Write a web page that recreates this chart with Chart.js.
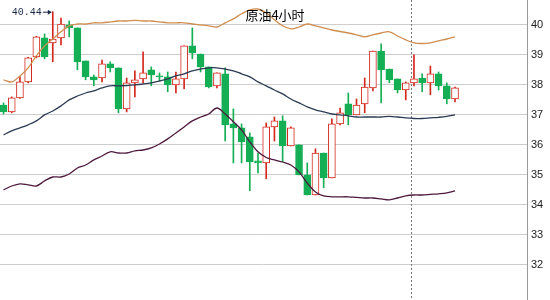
<!DOCTYPE html>
<html>
<head>
<meta charset="utf-8">
<script src="https://cdn.jsdelivr.net/npm/chart.js@4/dist/chart.umd.min.js"></script>
<style>
  html, body { margin: 0; padding: 0; background: #fff; }
  #wrap { width: 550px; height: 300px; }
</style>
</head>
<body>
<div id="wrap"><canvas id="oilChart"></canvas></div>
<script>
// 原油4小时 K线 + 布林带
const chartTitle = '原油4小时';
const opens = [37.33, 37.10, 37.57, 38.10, 38.93, 39.57, 39.40, 39.57, 40.00, 39.90,
    38.80, 38.27, 38.23, 38.70, 38.57, 37.20, 38.07, 38.20, 38.50, 38.30,
    38.27, 38.00, 38.20, 39.30, 39.03, 38.60, 37.97, 38.37, 36.70, 36.57,
    36.27, 35.47, 35.40, 36.60, 36.80, 35.97, 36.00, 35.00, 34.33, 35.73,
    34.90, 36.70, 37.37, 37.00, 37.37, 37.90, 39.13, 38.53, 38.20, 37.83,
    38.07, 38.23, 38.07, 38.37, 37.97, 37.53];
const closes = [37.10, 37.57, 38.10, 38.90, 39.60, 38.93, 39.53, 40.03, 39.90, 38.77,
    38.27, 38.17, 38.70, 38.57, 37.20, 38.07, 38.17, 38.40, 38.33, 38.27,
    38.00, 38.20, 39.30, 39.07, 38.60, 37.93, 38.40, 36.67, 36.57, 36.10,
    35.43, 35.40, 36.60, 36.80, 35.97, 36.57, 35.00, 34.33, 35.73, 34.90,
    36.70, 37.07, 37.00, 37.33, 37.93, 39.13, 38.50, 38.17, 37.83, 38.07,
    38.20, 38.07, 38.37, 37.97, 37.53, 37.90];
const highs = [37.40, 37.60, 38.27, 38.92, 39.62, 39.70, 40.44, 40.23, 40.13, 39.90,
    38.80, 38.33, 38.83, 38.77, 38.57, 38.23, 38.47, 39.10, 38.60, 38.40,
    38.43, 38.43, 39.30, 39.90, 39.03, 38.60, 38.40, 38.57, 37.20, 36.70,
    36.40, 35.73, 36.73, 36.93, 36.97, 36.60, 36.00, 35.40, 35.87, 35.73,
    36.87, 37.23, 37.73, 37.53, 38.23, 39.13, 39.37, 38.53, 38.20, 38.10,
    39.00, 38.37, 38.63, 38.43, 38.07, 37.93];
const lows = [37.03, 37.07, 37.55, 38.07, 38.90, 38.87, 38.77, 39.33, 39.60, 38.50,
    38.17, 37.97, 38.10, 38.43, 37.07, 37.10, 37.60, 38.07, 37.97, 38.13,
    37.77, 37.73, 37.87, 38.87, 38.43, 37.90, 37.90, 36.13, 35.40, 35.40,
    34.47, 35.07, 34.87, 36.13, 35.43, 35.97, 35.00, 34.33, 34.33, 34.57,
    34.90, 36.67, 36.67, 37.00, 37.07, 37.80, 37.40, 38.07, 37.73, 37.50,
    37.97, 37.77, 37.67, 37.83, 37.37, 37.43];
const upperBand = [38.17, 38.10, 38.30, 38.57, 38.97, 39.30, 39.53, 39.77, 39.97, 40.03,
    40.03, 40.07, 40.07, 40.10, 40.13, 40.13, 40.15, 40.13, 40.13, 40.10,
    40.07, 40.07, 40.07, 40.03, 40.00, 39.97, 39.93, 40.07, 40.20, 40.37,
    40.50, 40.53, 40.40, 40.17, 39.97, 39.87, 39.93, 40.03, 39.97, 39.90,
    39.83, 39.78, 39.73, 39.67, 39.60, 39.67, 39.73, 39.77, 39.63, 39.50,
    39.40, 39.38, 39.40, 39.47, 39.53, 39.60];
const midBand = [36.33, 36.47, 36.57, 36.67, 36.80, 37.00, 37.13, 37.30, 37.50, 37.63,
    37.73, 37.80, 37.90, 37.97, 37.97, 37.98, 38.00, 38.03, 38.07, 38.13,
    38.20, 38.30, 38.37, 38.47, 38.53, 38.57, 38.57, 38.53, 38.47, 38.37,
    38.27, 38.10, 37.97, 37.83, 37.70, 37.53, 37.40, 37.27, 37.17, 37.10,
    37.03, 37.00, 36.97, 36.93, 36.93, 36.93, 36.93, 36.95, 36.93, 36.90,
    36.88, 36.88, 36.90, 36.92, 36.95, 37.00];
const lowerBand = [34.50, 34.63, 34.70, 34.67, 34.63, 34.80, 34.93, 34.93, 35.03, 35.23,
    35.33, 35.50, 35.63, 35.77, 35.73, 35.73, 35.80, 35.83, 35.90, 36.03,
    36.20, 36.40, 36.60, 36.80, 36.93, 37.03, 37.23, 37.03, 36.77, 36.50,
    36.10, 35.77, 35.58, 35.50, 35.43, 35.33, 35.10, 34.73, 34.43, 34.30,
    34.27, 34.27, 34.27, 34.25, 34.23, 34.23, 34.20, 34.17, 34.23, 34.30,
    34.33, 34.33, 34.35, 34.37, 34.40, 34.47];
const yTicks = [32, 33, 34, 35, 36, 37, 38, 39, 40];
const cursorIndex = 49.6;     // 虚线光标位置
const maxLabel = '40.44';     // 最高价标注
const maxIndex = 6;

const UP = '#d3281e';
const DOWN = '#14ae55';

const idx = opens.map((_, i) => i);
const isUp = idx.map(i => closes[i] >= opens[i]);
const bodies = idx.map(i => ({ x: i, y: [opens[i], closes[i]] }));
const wicks = idx.map(i => ({ x: i, y: [lows[i], highs[i]] }));
const toPts = arr => arr.map((v, i) => ({ x: i, y: v }));

const overlay = {
    id: 'overlay',
    beforeDatasetsDraw(chart) {
        const { ctx, chartArea, scales } = chart;
        const x = Math.round(scales.x.getPixelForValue(cursorIndex)) + 0.5;
        ctx.save();
        ctx.strokeStyle = '#777';
        ctx.lineWidth = 1;
        ctx.setLineDash([2, 2]);
        ctx.beginPath();
        ctx.moveTo(x, chartArea.top);
        ctx.lineTo(x, chartArea.bottom);
        ctx.stroke();
        ctx.restore();
    },
    afterDraw(chart) {
        const { ctx, scales } = chart;
        ctx.save();
        ctx.fillStyle = '#000';
        ctx.font = '13px "Noto Sans CJK SC", sans-serif';
        ctx.textAlign = 'center';
        ctx.textBaseline = 'middle';
        ctx.fillText(chartTitle, chart.width / 2, 15);

        const hx = scales.x.getPixelForValue(maxIndex);
        const hy = scales.y.getPixelForValue(highs[maxIndex]);
        const ax1 = hx - 2, ax0 = hx - 10;
        ctx.strokeStyle = '#1d2a48';
        ctx.fillStyle = '#1d2a48';
        ctx.lineWidth = 1;
        ctx.beginPath();
        ctx.moveTo(ax0, hy + 0.5);
        ctx.lineTo(ax1, hy + 0.5);
        ctx.stroke();
        ctx.beginPath();
        ctx.moveTo(ax1 + 1, hy + 0.5);
        ctx.lineTo(ax1 - 3, hy - 2);
        ctx.lineTo(ax1 - 3, hy + 3);
        ctx.closePath();
        ctx.fill();
        ctx.font = '10px "Liberation Mono", monospace';
        ctx.textAlign = 'right';
        ctx.fillText(maxLabel, ax0 - 1, hy + 1);
        ctx.restore();
    }
};

new Chart(document.getElementById('oilChart'), {
    type: 'bar',
    data: {
        datasets: [
            {
                type: 'line', data: toPts(upperBand), borderColor: '#cf8d4f',
                borderWidth: 1.3, pointRadius: 0, tension: 0.35, order: 0
            },
            {
                type: 'line', data: toPts(midBand), borderColor: '#2b3b52',
                borderWidth: 1.3, pointRadius: 0, tension: 0.35, order: 0
            },
            {
                type: 'line', data: toPts(lowerBand), borderColor: '#4d1a3e',
                borderWidth: 1.3, pointRadius: 0, tension: 0.35, order: 0
            },
            {
                data: bodies,
                backgroundColor: idx.map(i => isUp[i] ? '#fff' : DOWN),
                borderColor: idx.map(i => isUp[i] ? UP : DOWN),
                borderWidth: 1, borderSkipped: false, barThickness: 7,
                grouped: false, order: 1
            },
            {
                data: wicks,
                backgroundColor: idx.map(i => isUp[i] ? UP : DOWN),
                borderWidth: 0, barThickness: 1, grouped: false, order: 2
            }
        ]
    },
    options: {
        responsive: true,
        maintainAspectRatio: false,
        animation: false,
        layout: { padding: 0 },
        plugins: { legend: { display: false }, tooltip: { enabled: false } },
        scales: {
            x: {
                type: 'linear', display: false, offset: false,
                min: -0.43, max: 63.77
            },
            y: {
                position: 'right',
                min: 30.83, max: 40.83,
                afterBuildTicks: s => { s.ticks = yTicks.map(v => ({ value: v })); },
                afterFit: s => { s.width = 23; s.paddingTop = 0; s.paddingBottom = 0; },
                grid: { color: '#cdcdcd', lineWidth: 1, drawTicks: false },
                border: { display: true, color: '#9a9a9a' },
                ticks: {
                    padding: 4, color: '#222',
                    font: { family: 'Liberation Sans', size: 11 }
                }
            }
        }
    },
    plugins: [overlay]
});
</script>
</body>
</html>
